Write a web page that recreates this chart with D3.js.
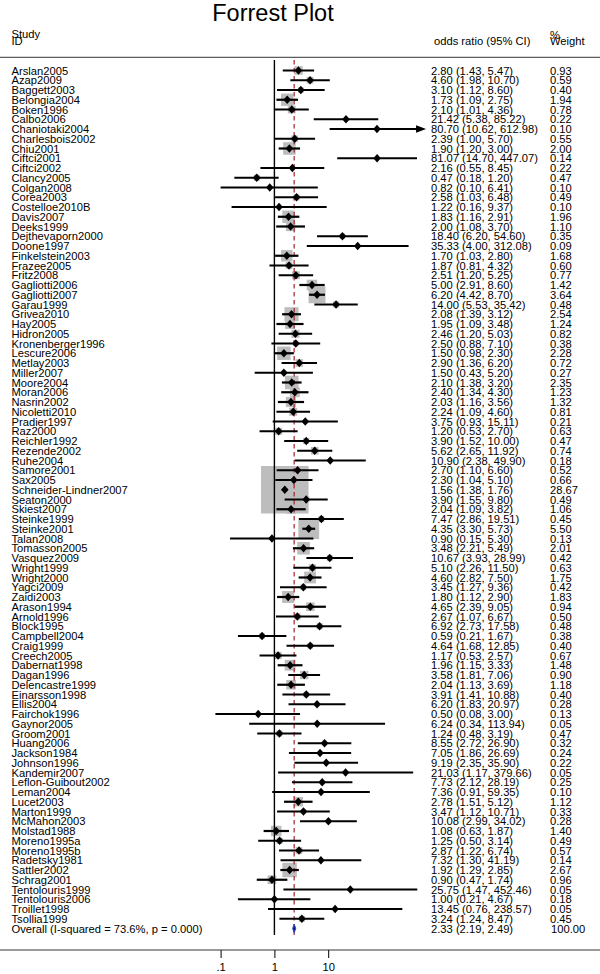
<!DOCTYPE html>
<html>
<head>
<title>Forrest Plot</title>
<script src="https://cdnjs.cloudflare.com/ajax/libs/d3/7.8.5/d3.min.js"></script>
<style>
body { margin: 0; background: #fff; }
text { font-family: "Liberation Sans", Arial, sans-serif; fill: #000; }
</style>
</head>
<body>
<div id="chart"></div>

<script type="text/javascript">
// study data
var studies = ["Arslan2005","Azap2009","Baggett2003","Belongia2004","Boken1996","Calbo2006","Chaniotaki2004","Charlesbois2002",
  "Chiu2001","Ciftci2001","Ciftci2002","Clancy2005","Colgan2008","Corea2003","Costelloe2010B","Davis2007",
  "Deeks1999","Dejthevaporn2000","Doone1997","Finkelstein2003","Frazee2005","Fritz2008","Gagliotti2006","Gagliotti2007",
  "Garau1999","Grivea2010","Hay2005","Hidron2005","Kronenberger1996","Lescure2006","Metlay2003","Miller2007",
  "Moore2004","Moran2006","Nasrin2002","Nicoletti2010","Pradier1997","Raz2000","Reichler1992","Rezende2002",
  "Ruhe2004","Samore2001","Sax2005","Schneider-Lindner2007","Seaton2000","Skiest2007","Steinke1999","Steinke2001",
  "Talan2008","Tomasson2005","Vasquez2009","Wright1999","Wright2000","Yagci2009","Zaidi2003","Arason1994",
  "Arnold1996","Block1995","Campbell2004","Craig1999","Creech2005","Dabernat1998","Dagan1996","Delencastre1999",
  "Einarsson1998","Ellis2004","Fairchok1996","Gaynor2005","Groom2001","Huang2006","Jackson1984","Johnson1996",
  "Kandemir2007","Leflon-Guibout2002","Leman2004","Lucet2003","Marton1999","McMahon2003","Molstad1988","Moreno1995a",
  "Moreno1995b","Radetsky1981","Sattler2002","Schrag2001","Tentolouris1999","Tentolouris2006","Troillet1998","Tsollia1999"];

var oddsRatio = [2.80,4.60,3.10,1.73,2.10,21.42,80.70,2.39,
  1.90,81.07,2.16,0.47,0.82,2.58,1.22,1.83,
  2.00,18.40,35.33,1.70,1.87,2.51,5.00,6.20,
  14.00,2.08,1.95,2.46,2.50,1.50,2.90,1.50,
  2.10,2.40,2.03,2.24,3.75,1.20,3.90,5.62,
  10.90,2.70,2.30,1.56,3.90,2.04,7.47,4.35,
  0.90,3.48,10.67,5.10,4.60,3.45,1.80,4.65,
  2.67,6.92,0.59,4.64,1.17,1.96,3.58,2.04,
  3.91,6.20,0.50,6.24,1.24,8.55,7.05,9.19,
  21.03,7.73,7.36,2.78,3.47,10.08,1.08,1.25,
  2.87,7.32,1.92,0.90,25.75,1.00,13.45,3.24];

var ciLow = [1.43,1.98,1.12,1.09,1.01,5.38,10.62,1.00,
  1.20,14.70,0.55,0.18,0.10,1.03,0.16,1.16,
  1.08,6.20,4.00,1.03,0.81,1.20,2.91,4.42,
  5.53,1.39,1.09,1.20,0.88,0.98,1.36,0.43,
  1.38,1.34,1.16,1.09,0.93,0.53,1.52,2.65,
  2.38,1.10,1.04,1.38,1.55,1.09,2.86,3.30,
  0.15,2.21,3.93,2.26,2.82,1.27,1.12,2.39,
  1.07,2.73,0.21,1.68,0.53,1.15,1.81,1.13,
  1.41,1.83,0.08,0.34,0.48,2.72,1.86,2.35,
  1.17,2.12,0.91,1.51,1.12,2.99,0.63,0.50,
  1.22,1.30,1.29,0.47,1.47,0.21,0.76,1.24];

var ciHigh = [5.47,10.70,8.60,2.75,4.36,85.22,612.98,5.70,
  3.00,447.07,8.45,1.20,6.41,6.48,9.37,2.91,
  3.70,54.60,312.08,2.80,4.32,5.25,8.60,8.70,
  35.42,3.12,3.48,5.03,7.10,2.30,6.20,5.20,
  3.20,4.30,3.56,4.60,15.11,2.70,10.00,11.92,
  49.90,6.60,5.10,1.76,9.80,3.82,19.51,5.73,
  5.30,5.49,28.99,11.50,7.50,9.36,2.90,9.05,
  6.67,17.58,1.67,12.85,2.57,3.33,7.06,3.69,
  10.88,20.97,3.00,113.94,3.19,26.90,26.69,35.90,
  379.66,28.19,59.35,5.12,10.71,34.02,1.87,3.14,
  6.74,41.19,2.85,1.74,452.46,4.67,238.57,8.47];

var weights = [0.93,0.59,0.40,1.94,0.78,0.22,0.10,0.55,
  2.00,0.14,0.22,0.47,0.10,0.49,0.10,1.96,
  1.10,0.35,0.09,1.68,0.60,0.77,1.42,3.64,
  0.48,2.54,1.24,0.82,0.38,2.28,0.72,0.27,
  2.35,1.23,1.32,0.81,0.21,0.63,0.47,0.74,
  0.18,0.52,0.66,28.67,0.49,1.06,0.45,5.50,
  0.13,2.01,0.42,0.63,1.75,0.42,1.83,0.94,
  0.50,0.48,0.38,0.40,0.67,1.48,0.90,1.18,
  0.40,0.28,0.13,0.05,0.47,0.32,0.24,0.22,
  0.05,0.25,0.10,1.12,0.33,0.28,1.40,0.49,
  0.57,0.14,2.67,0.96,0.05,0.18,0.05,0.45];

var overallLabel = "Overall  (I-squared = 73.6%, p = 0.000)";
var overall = [2.33, 2.19, 2.49];   // estimate, low, high
var overallWeight = "100.00";

var tickValues = [0.1, 1, 10];
var tickLabels = [".1", "1", "10"];

// layout
var width = 600, height = 974;
var rowTop = 70.5, rowStep = 9.75;
var fontSize = "11.2px";
var clipMax = 580;      // CIs beyond this get an arrow

var svg = d3.select("#chart").append("svg")
    .attr("width", width)
    .attr("height", height);

var x = d3.scaleLog().domain([0.1, 10]).range([220.6, 328.2]);
var y = function(i) { return rowTop + i * rowStep; };
var yOverall = y(studies.length);

function fmt(v) { return v.toFixed(2); }

function addText(xp, yp, s) {
    svg.append("text")
        .attr("x", xp).attr("y", yp)
        .style("font-size", fontSize)
        .text(s);
}

// title + header
svg.append("text")
    .attr("x", 273).attr("y", 21)
    .attr("text-anchor", "middle")
    .style("font-size", "23.5px")
    .text("Forrest Plot");

addText(11.5, 38, "Study");
addText(11.5, 44.5, "ID");
addText(434, 44.5, "odds ratio (95% CI)");
addText(550, 38.5, "%");
addText(550, 44.5, "Weight");

svg.append("line")
    .attr("x1", 0).attr("x2", width)
    .attr("y1", 57.3).attr("y2", 57.3)
    .attr("stroke", "#000").attr("stroke-width", 0.8);

// weight boxes
var boxK = 8.87;
svg.append("g").selectAll("rect")
    .data(weights)
    .enter().append("rect")
    .attr("x", function(d, i) { return x(oddsRatio[i]) - boxK / 2 * Math.sqrt(d); })
    .attr("y", function(d, i) { return y(i) - boxK / 2 * Math.sqrt(d); })
    .attr("width", function(d) { return boxK * Math.sqrt(d); })
    .attr("height", function(d) { return boxK * Math.sqrt(d); })
    .attr("fill", "#bdbdbd");

// null line and overall line
svg.append("line")
    .attr("x1", x(1)).attr("x2", x(1))
    .attr("y1", 60).attr("y2", 935)
    .attr("stroke", "#000").attr("stroke-width", 1.4);

svg.append("line")
    .attr("x1", x(overall[0])).attr("x2", x(overall[0]))
    .attr("y1", 60).attr("y2", 935)
    .attr("stroke", "#a3222e").attr("stroke-width", 1.2)
    .attr("stroke-dasharray", "4.5,3.5");

// confidence intervals
var ci = svg.append("g");
studies.forEach(function(s, i) {
    var hi = Math.min(ciHigh[i], clipMax);
    ci.append("line")
        .attr("x1", x(ciLow[i])).attr("x2", x(hi))
        .attr("y1", y(i)).attr("y2", y(i))
        .attr("stroke", "#000").attr("stroke-width", 2.2);
    if (ciHigh[i] > clipMax) {
        var xe = x(clipMax);
        ci.append("path")
            .attr("d", "M" + (xe + 3) + "," + y(i) + "L" + (xe - 7) + "," + (y(i) - 3.8) +
                       "L" + (xe - 7) + "," + (y(i) + 3.8) + "Z")
            .attr("fill", "#000");
    }
    ci.append("path")
        .attr("d", "M" + x(oddsRatio[i]) + "," + (y(i) - 4.3) +
                   "l3.8,4.3l-3.8,4.3l-3.8,-4.3Z")
        .attr("fill", "#000");
});

// overall diamond
svg.append("path")
    .attr("d", "M" + x(overall[1]) + "," + yOverall +
               "L" + x(overall[0]) + "," + (yOverall - 4.5) +
               "L" + x(overall[2]) + "," + yOverall +
               "L" + x(overall[0]) + "," + (yOverall + 4.5) + "Z")
    .attr("fill", "#101070").attr("stroke", "#2a4fd0").attr("stroke-width", 1);

// row labels
studies.forEach(function(s, i) {
    addText(11.5, y(i) + 4, s);
    addText(431, y(i) + 4, fmt(oddsRatio[i]) + " (" + fmt(ciLow[i]) + ", " + fmt(ciHigh[i]) + ")");
    addText(550, y(i) + 4, fmt(weights[i]));
});
addText(11.5, yOverall + 4, overallLabel);
addText(431, yOverall + 4, fmt(overall[0]) + " (" + fmt(overall[1]) + ", " + fmt(overall[2]) + ")");
addText(551, yOverall + 4, overallWeight);

// x axis
svg.append("line")
    .attr("x1", 0).attr("x2", width)
    .attr("y1", 950).attr("y2", 950)
    .attr("stroke", "#000").attr("stroke-width", 0.8);

var axis = svg.append("g")
    .attr("transform", "translate(0,950)")
    .call(d3.axisBottom(x)
        .tickValues(tickValues)
        .tickFormat(function(d, i) { return tickLabels[i]; })
        .tickSize(8)
        .tickPadding(5));
axis.select(".domain").remove();
axis.selectAll("line").attr("stroke-width", 1);
axis.selectAll("text")
    .style("font-size", fontSize)
    .style("font-family", "'Liberation Sans', Arial, sans-serif")
    .attr("fill", "#000");
</script>

</body>
</html>
